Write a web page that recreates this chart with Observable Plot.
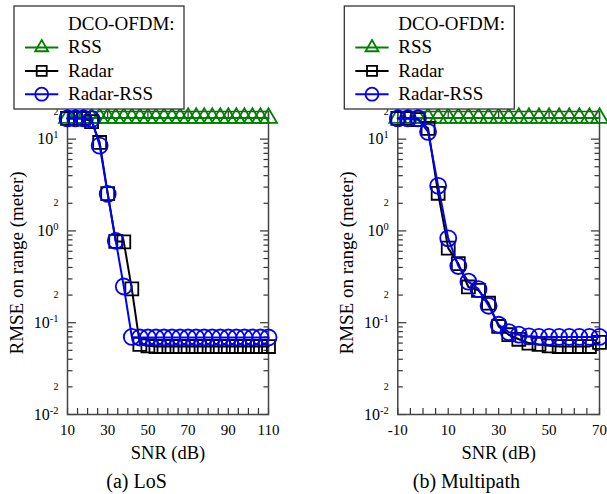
<!DOCTYPE html>
<html><head><meta charset="utf-8">
<script src="https://cdn.jsdelivr.net/npm/d3@7"></script>
<script src="https://cdn.jsdelivr.net/npm/@observablehq/plot@0.6"></script>
<style>
html,body{margin:0;padding:0;background:#fff;}
#chart{position:relative;width:607px;height:494px;overflow:hidden;background:#fff;}
#chart svg{position:absolute;left:0;top:0;}
</style></head><body><div id="chart"></div>
<script>
// ---- data ----
const legendTitle = "DCO-OFDM:";
const seriesNames = ["RSS", "Radar", "Radar-RSS"];
const seriesColors = ["#008000", "#000000", "#0000ff"];
const seriesSymbols = ["triangle", "square", "circle"];

const snrLoS = [10,14,18,22,26,30,34,38,42,46,50,54,58,62,66,70,74,78,82,86,90,94,98,102,106,110];
const rssLoS = [17,17,17,17,17,17,17,17,17,17,17,17,17,17,17,17,17,17,17,17,17,17,17,17,17,17];
const radarLoS = [16.8,16.8,16.8,15.5,9.2,2.55,0.77,0.76,0.234,0.058,0.056,0.055,0.055,0.055,0.055,0.055,0.055,0.055,0.055,0.055,0.055,0.055,0.055,0.055,0.055,0.055];
const radarRssLoS = [16.8,16.8,16.8,16.5,8.5,2.53,0.78,0.248,0.07,0.069,0.069,0.069,0.069,0.069,0.069,0.069,0.069,0.069,0.069,0.069,0.069,0.069,0.069,0.069,0.069,0.069];

const snrMP = [-10,-6,-2,2,6,10,14,18,22,26,30,34,38,42,46,50,54,58,62,66,70];
const rssMP = [17,17,17,17,17,17,17,17,17,17,17,17,17,17,17,17,17,17,17,17,17];
const radarMP = [16.8,16.8,16.3,13.1,2.57,0.65,0.44,0.245,0.225,0.163,0.091,0.074,0.066,0.06,0.058,0.056,0.055,0.055,0.055,0.055,0.061];
const radarRssMP = [16.8,16.8,16.8,12.0,3.1,0.83,0.415,0.28,0.232,0.153,0.095,0.079,0.074,0.071,0.07,0.07,0.07,0.07,0.07,0.07,0.07];

const xMajorLoS = [10,30,50,70,90,110];
const xMinorLoS = [10,15,20,25,30,35,40,45,50,55,60,65,70,75,80,85,90,95,100,105,110];
const xMajorMP = [-10,10,30,50,70];
const xMinorMP = [-10,-5,0,5,10,15,20,25,30,35,40,45,50,55,60,65,70];
const yMajor = [0.01, 0.1, 1, 10];
const yMinorLabels = [0.02, 0.05, 0.2, 0.5, 2, 5, 20];
const yMinor = [0.02,0.03,0.04,0.05,0.06,0.07,0.08,0.09,0.2,0.3,0.4,0.5,0.6,0.7,0.8,0.9,2,3,4,5,6,7,8,9,20];

const yLabel = "RMSE on range (meter)";
const xLabel = "SNR (dB)";

// ---- drawing ----
const W = 607, H = 494, TOP = 111, BOTTOM = 414;
const FONT = "Liberation Serif";

function panel(cfg) {
  const {snr, values, xDomain, xMajor, xMinor, left, right, caption, captionDx, legendX} = cfg;
  const tick = "#333";
  const marks = [];
  // ticks (inward)
  marks.push(Plot.axisX({anchor: "bottom", ticks: xMinor, tickSize: -6, tickFormat: () => "", stroke: tick, strokeWidth: 1.2}));
  marks.push(Plot.axisX({anchor: "top", ticks: xMajor, tickSize: -7, tickFormat: () => "", stroke: tick, strokeWidth: 1.2}));
  for (const a of ["left", "right"]) {
    marks.push(Plot.axisY({anchor: a, ticks: yMajor, tickSize: -9, tickFormat: () => "", stroke: tick, strokeWidth: 1.2}));
    marks.push(Plot.axisY({anchor: a, ticks: yMinor, tickSize: -5.5, tickFormat: () => "", stroke: tick, strokeWidth: 1.2}));
  }
  // tick labels
  marks.push(Plot.axisX({anchor: "bottom", ticks: xMajor, tickSize: 0, tickPadding: 10, fontSize: 15, fontFamily: FONT, tickFormat: d => String(d), fill: "#000"}));
  marks.push(Plot.axisY({anchor: "left", ticks: yMajor, tickSize: 0, tickPadding: 9, fontSize: 16, fontFamily: FONT, tickFormat: d => "10^" + Math.round(Math.log10(d)), fill: "#000"}));
  marks.push(Plot.axisY({anchor: "left", ticks: yMinorLabels, tickSize: 0, tickPadding: 9, fontSize: 10, fontFamily: FONT, tickFormat: d => String(Math.round(d / Math.pow(10, Math.floor(Math.log10(d) + 1e-9)))), fill: "#000"}));
  marks.push(Plot.frame({stroke: "#444", strokeWidth: 1.5}));
  // series
  values.forEach((vals, k) => {
    const rows = snr.map((x, i) => ({x, y: vals[i]}));
    marks.push(Plot.line(rows, {x: "x", y: "y", stroke: seriesColors[k], strokeWidth: 2}));
    const r = seriesSymbols[k] === "circle" ? 8 : seriesSymbols[k] === "square" ? 7.3 : 6.3;
    marks.push(Plot.dot(rows, {x: "x", y: "y", symbol: () => seriesSymbols[k], r, stroke: seriesColors[k], strokeWidth: 1.8, fill: "none"}));
  });
  // titles
  marks.push(Plot.text([yLabel], {frameAnchor: "left", textAnchor: "middle", dx: -51, rotate: -90, fontSize: 19, fontFamily: FONT, lineAnchor: "middle", fill: "#000"}));
  marks.push(Plot.text([xLabel], {frameAnchor: "bottom", textAnchor: "middle", dy: 44, lineAnchor: "bottom", fontSize: 18.5, fontFamily: FONT, fill: "#000"}));
  marks.push(Plot.text([caption], {frameAnchor: "bottom", textAnchor: "middle", dx: captionDx, dy: 73, lineAnchor: "bottom", fontSize: 20, fontFamily: FONT, fill: "#000"}));

  const svg = Plot.plot({
    width: W, height: H,
    marginLeft: left, marginRight: W - right, marginTop: TOP, marginBottom: H - BOTTOM,
    style: {background: "transparent", fontFamily: FONT, color: "#000", overflow: "visible"},
    x: {domain: xDomain, label: null},
    y: {type: "log", domain: [0.01, 20], label: null},
    symbol: {type: "identity"},
    marks
  });
  svg.setAttribute("font-family", FONT);

  // superscripts for decade labels
  d3.select(svg).selectAll("text").each(function () {
    const t = this.textContent;
    if (t.includes("^") && this.children.length === 0) {
      const [b, e] = t.split("^");
      const s = d3.select(this);
      s.text(null);
      s.append("tspan").text(b);
      s.append("tspan").attr("dy", "-6").attr("font-size", "10.5px").text(e);
    }
  });

  // legend
  const g = d3.select(svg).append("g").attr("transform", `translate(${legendX},0)`)
    .attr("text-anchor", "start").attr("font-family", FONT);
  g.append("rect").attr("x", 14).attr("y", 6).attr("width", 170).attr("height", 103)
    .attr("fill", "#fff").attr("stroke", "#333").attr("stroke-width", 1.3);
  g.append("text").attr("x", 68).attr("y", 30).attr("font-size", 19).attr("fill", "#000").text(legendTitle);
  const base = [53.3, 76.7, 100];
  const symMap = {triangle: d3.symbolTriangle, square: d3.symbolSquare, circle: d3.symbolCircle};
  const symSize = {triangle: 73, square: 100, circle: 133};
  seriesNames.forEach((name, k) => {
    const yy = base[k] - 5.8;
    g.append("line").attr("x1", 25).attr("x2", 58.3).attr("y1", yy).attr("y2", yy)
      .attr("stroke", seriesColors[k]).attr("stroke-width", 2);
    g.append("path").attr("transform", `translate(41.7,${yy})`)
      .attr("d", d3.symbol(symMap[seriesSymbols[k]], symSize[seriesSymbols[k]])())
      .attr("fill", "none").attr("stroke", seriesColors[k]).attr("stroke-width", 1.8);
    g.append("text").attr("x", 68).attr("y", base[k]).attr("font-size", 19).attr("fill", "#000").text(name);
  });
  return svg;
}

const chart = document.getElementById("chart");
chart.appendChild(panel({
  snr: snrLoS, values: [rssLoS, radarLoS, radarRssLoS], xDomain: [10, 110],
  xMajor: xMajorLoS, xMinor: xMinorLoS, left: 67, right: 268,
  caption: "(a) LoS", captionDx: -31.5, legendX: 0
}));
chart.appendChild(panel({
  snr: snrMP, values: [rssMP, radarMP, radarRssMP], xDomain: [-10, 70],
  xMajor: xMajorMP, xMinor: xMinorMP, left: 397.3, right: 599,
  caption: "(b) Multipath", captionDx: -32.3, legendX: 330.3
}));
</script></body></html>
